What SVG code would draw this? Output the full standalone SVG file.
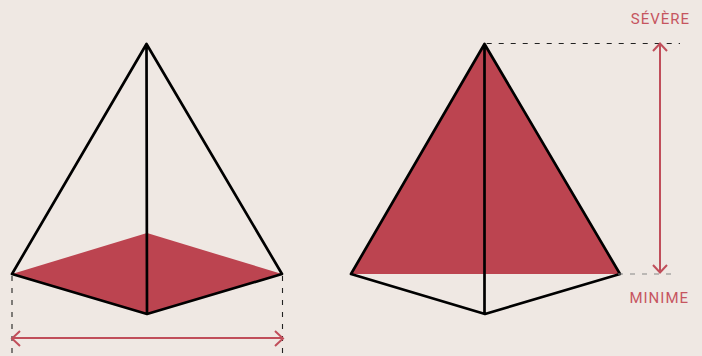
<svg xmlns="http://www.w3.org/2000/svg" width="702" height="356" viewBox="0 0 702 356">
<style>
.fill{fill:#bc4450;stroke:none}
.edge{fill:none;stroke:#000;stroke-width:2.7;stroke-linejoin:round;stroke-linecap:round}
.dash{fill:none;stroke:#222;stroke-width:1.1;stroke-dasharray:5 7}
.dim{fill:none;stroke:#c04e5a;stroke-width:2}
.lbl{font-family:Roboto,"Liberation Sans",sans-serif;font-size:15px;letter-spacing:1px;fill:#c65560;text-anchor:end}
</style>
<rect width="702" height="356" fill="#efe8e3"/>
<g id="pyramid-left">
<polygon class="fill" points="12,274 147,233 282,274 147,314"/>
<path class="edge" d="M12,274L146.500,44L282,274L147,314ZM146.500,44L147,314"/>
</g>
<g id="pyramid-right">
<polygon class="fill" points="351,274 484.500,44 620,274"/>
<path class="edge" d="M351,274L484.500,44L620,274L485,314ZM484.500,44L484.500,314"/>
</g>
<g id="connectors">
<path class="dash" d="M12,276V356M282.500,276V356M486.700,43.500H680"/>
<path class="dash" style="stroke:#888" d="M618,274H678"/>
<path class="dim" d="M13,338H282M20,331L12,338.500L20,346M275,331L283,338.500L275,346"/>
<path class="dim" d="M660,44V272M653,51L660,43.500L667,51M653,265L660,272.500L667,265"/>
</g>
<g id="label-severe"><text class="lbl" x="690" y="24">SÉVÈRE</text></g>
<g id="label-minime"><text class="lbl" x="689" y="303">MINIME</text></g>
</svg>
